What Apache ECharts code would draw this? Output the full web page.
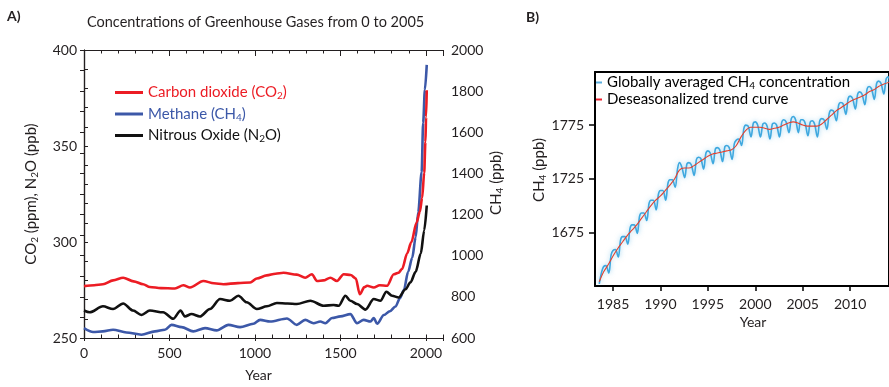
<!DOCTYPE html>
<html>
<head>
<meta charset="utf-8">
<script src="https://cdn.jsdelivr.net/npm/echarts@6.0.0/dist/echarts.min.js"></script>
<style>
  html, body { margin: 0; padding: 0; background: #fff; }
  #chart { width: 889px; height: 387px; }
</style>
</head>
<body>
<div id="chart"></div>
<script>
// ---- Panel A: concentrations over the last two millennia ([year, value]) ----
const co2Ppm = [
  [0,277],[60,277.5],[111,278],[170,280],[229,281.4],[290,279.5],[346,278],[385,276.6],
  [450,276],[532,275.8],[581,277.5],[620,276.3],[698,279.7],[760,278.5],[815,278],[900,278.6],
  [972,278.9],[1011,281],[1069,282.6],[1120,283.5],[1167,284],[1245,283],[1294,281.4],[1333,283.2],
  [1363,279.7],[1400,280],[1441,281.4],[1480,279.7],[1519,283.2],[1560,282.8],[1590,281],[1613,272.8],
  [1640,276.5],[1656,277.2],[1695,276.3],[1730,277.5],[1773,277.2],[1812,283.2],[1840,284],[1861,286],
  [1890,294],[1915,300],[1945,310],[1965,316],[1978,323],[1990,336],[1997,352],[2001,365],[2005,379]
];
const n2oPpb = [
  [0,264.3],[33,263.4],[111,266.5],[170,265.1],[229,268],[287,264.3],[336,262],[385,264.3],
  [463,263.4],[522,260],[565,264.3],[590,261.2],[629,262.5],[678,261.2],[737,265.1],[796,270.3],
  [854,269.4],[903,272],[952,268.6],[1011,265.1],[1070,266.5],[1128,268.2],[1190,268],[1245,267.7],
  [1324,269.4],[1402,266.8],[1460,267.2],[1490,266.8],[1529,272],[1558,269.4],[1597,267.7],[1646,264.8],
  [1695,270.3],[1734,269.4],[1769,274.1],[1802,272],[1841,271.1],[1881,275.4],[1910,279],[1940,284.5],
  [1970,294],[1990,306],[2005,319]
];
const ch4Ppb = [
  [0,648],[53,629],[110,632],[170,640],[248,627],[336,616],[415,632],[473,640],[512,664],[571,653],
  [639,632],[708,648],[776,637],[845,664],[913,653],[991,669],[1030,688],[1089,680],[1187,695],
  [1245,664],[1294,688],[1343,672],[1382,680],[1412,672],[1451,697],[1500,705],[1558,716],[1597,672],
  [1636,688],[1676,680],[1695,697],[1715,669],[1754,712],[1789,730],[1822,753],[1848,793],[1871,833],
  [1896,922],[1920,990],[1940,1090],[1955,1211],[1975,1405],[1984,1646],[1994,1807],[2005,1928]
];

// ---- Panel B: globally averaged CH4, seasonal cycle and trend ([decimal year, ppb]) ----
const ch4Global = [
  [1983.55,1627],[1983.8,1638],
  [1984.0,1643],[1984.25,1644],[1984.55,1637],[1984.8,1654],
  [1985.0,1658],[1985.25,1659],[1985.55,1652],[1985.8,1668],
  [1986.0,1671],[1986.25,1671],[1986.55,1664],[1986.8,1679],
  [1987.0,1682],[1987.25,1682],[1987.55,1674],[1987.8,1690],
  [1988.0,1693],[1988.25,1693],[1988.55,1686],[1988.8,1702],
  [1989.0,1705],[1989.25,1705],[1989.55,1696],[1989.8,1711],
  [1990.0,1714],[1990.25,1714],[1990.55,1705],[1990.8,1721],
  [1991.0,1724],[1991.25,1724],[1991.55,1717],[1991.8,1734],
  [1992.0,1740],[1992.25,1736],[1992.55,1726],[1992.8,1739],
  [1993.0,1740],[1993.25,1738],[1993.55,1728],[1993.8,1743],
  [1994.0,1745],[1994.25,1744],[1994.55,1734],[1994.8,1749],
  [1995.0,1751],[1995.25,1749],[1995.55,1739],[1995.8,1753],
  [1996.0,1754],[1996.25,1752],[1996.55,1741],[1996.8,1755],
  [1997.0,1756],[1997.25,1754],[1997.55,1743],[1997.8,1758],
  [1998.0,1761],[1998.25,1762],[1998.55,1756],[1998.8,1772],
  [1999.0,1775],[1999.25,1774],[1999.55,1764],[1999.8,1777],
  [2000.0,1778],[2000.25,1775],[2000.55,1764],[2000.8,1776],
  [2001.0,1777],[2001.25,1774],[2001.55,1762],[2001.8,1776],
  [2002.0,1777],[2002.25,1775],[2002.55,1764],[2002.8,1778],
  [2003.0,1780],[2003.25,1778],[2003.55,1768],[2003.8,1781],
  [2004.0,1783],[2004.25,1780],[2004.55,1768],[2004.8,1780],
  [2005.0,1780],[2005.25,1777],[2005.55,1765],[2005.8,1778],
  [2006.0,1779],[2006.25,1776],[2006.55,1764],[2006.8,1779],
  [2007.0,1781],[2007.25,1780],[2007.55,1771],[2007.8,1786],
  [2008.0,1789],[2008.25,1788],[2008.55,1779],[2008.8,1794],
  [2009.0,1796],[2009.25,1795],[2009.55,1785],[2009.8,1800],
  [2010.0,1802],[2010.25,1800],[2010.55,1790],[2010.8,1804],
  [2011.0,1806],[2011.25,1804],[2011.55,1794],[2011.8,1809],
  [2012.0,1811],[2012.25,1809],[2012.55,1799],[2012.8,1814],
  [2013.0,1816],[2013.25,1814],[2013.55,1804],[2013.8,1818],
  [2014.0,1820],[2014.2,1812]
];
const ch4Trend = [
  [1983.55,1629],[1984.0,1638],[1984.5,1645],[1985.0,1653],[1985.5,1660],[1986.0,1666],[1986.5,1672],
  [1987.0,1677],[1987.5,1682],[1988.0,1688],[1988.5,1694],[1989.0,1700],[1989.5,1705],[1990.0,1709],
  [1990.5,1714],[1991.0,1719],[1991.5,1725],[1992.0,1733],[1992.5,1735],[1993.0,1735],[1993.5,1737],
  [1994.0,1740],[1994.5,1743],[1995.0,1746],[1995.5,1748],[1996.0,1749],[1996.5,1750],[1997.0,1751],
  [1997.5,1752],[1998.0,1756],[1998.5,1764],[1999.0,1770],[1999.5,1773],[2000.0,1773],[2000.5,1773],
  [2001.0,1772],[2001.5,1771],[2002.0,1772],[2002.5,1773],[2003.0,1775],[2003.5,1777],[2004.0,1778],
  [2004.5,1777],[2005.0,1775],[2005.5,1774],[2006.0,1774],[2006.5,1774],[2007.0,1776],[2007.5,1780],
  [2008.0,1784],[2008.5,1788],[2009.0,1791],[2009.5,1794],[2010.0,1797],[2010.5,1799],[2011.0,1801],
  [2011.5,1803],[2012.0,1806],[2012.5,1808],[2013.0,1811],[2013.5,1813],[2014.1,1815]
];
const yearTicksB = [1985, 1990, 1995, 2000, 2005, 2010];
const ppbTicksB = [1675, 1725, 1775];

const FONT = 'Lato';
const INK = '#231f20';
const RED = '#ec1c24';
const BLUE = '#3c58a8';
const BLACK = '#111111';
const SKY = '#3ea8df';
const TREND = '#e2412f';

const richText = {
  n: { fontSize: 15, fontFamily: FONT, lineHeight: 18 },
  s: { fontSize: 10, fontFamily: FONT, lineHeight: 18, padding: [7, 0, 0, 0] }
};

const legendLabels = {
  'Carbon dioxide': '{n|Carbon dioxide (CO}{s|2}{n|)}',
  'Methane': '{n|Methane (CH}{s|4}{n|)}',
  'Nitrous Oxide': '{n|Nitrous Oxide (N}{s|2}{n|O)}',
  'Globally averaged': '{n|Globally averaged CH}{s|4}{n| concentration}',
  'Deseasonalized': '{n|Deseasonalized trend curve}'
};

const frameLine = { show: true, lineStyle: { color: INK, width: 1.2 } };
const boxLineB = { show: true, onZero: false, lineStyle: { color: '#000', width: 2 } };
const tickLabel = { fontSize: 14, fontFamily: FONT, color: INK };
const plain = (v) => String(Math.round(v));

const chart = echarts.init(document.getElementById('chart'), null, { renderer: 'canvas' });

chart.setOption({
  animation: false,
  textStyle: { fontFamily: FONT },
  title: [
    { text: 'Concentrations of Greenhouse Gases from 0 to 2005', left: 87, top: 15, padding: 0,
      textStyle: { fontSize: 14.5, fontWeight: 'normal', fontFamily: FONT, color: INK } },
    { text: 'A)', left: 7, top: 9, padding: 0,
      textStyle: { fontSize: 14, fontWeight: 'bold', fontFamily: FONT, color: INK } },
    { text: 'B)', left: 526, top: 10, padding: 0,
      textStyle: { fontSize: 14, fontWeight: 'bold', fontFamily: FONT, color: INK } }
  ],
  grid: [
    { left: 84, top: 50, right: 446, bottom: 46 },
    { left: 595, top: 72, right: -5, bottom: 101 },
    { left: 84, top: 50, right: 446, bottom: 46 }
  ],
  legend: [
    {
      orient: 'vertical', left: 115, top: 84, padding: 0,
      itemWidth: 28, itemHeight: 3, itemGap: 4.5, icon: 'rect',
      data: [
        { name: 'Carbon dioxide', textStyle: { color: RED } },
        { name: 'Methane', textStyle: { color: BLUE } },
        { name: 'Nitrous Oxide', textStyle: { color: BLACK } }
      ],
      formatter: (name) => legendLabels[name],
      textStyle: { fontSize: 15, fontFamily: FONT, rich: richText }
    },
    {
      orient: 'vertical', left: 596, top: 74, padding: 0,
      itemWidth: 6, itemHeight: 2, itemGap: 1, icon: 'rect',
      data: [
        { name: 'Globally averaged', textStyle: { color: '#000' } },
        { name: 'Deseasonalized', textStyle: { color: '#000' } }
      ],
      formatter: (name) => legendLabels[name],
      textStyle: { fontSize: 15, fontFamily: FONT, rich: richText }
    }
  ],
  xAxis: [
    { // A bottom: 100-year ticks, labels every 500
      gridIndex: 0, type: 'value', position: 'bottom', min: 0, max: 2100, interval: 100,
      axisLine: frameLine, splitLine: { show: false },
      axisTick: { inside: true, length: 3.5, lineStyle: { color: INK, width: 1 } },
      axisLabel: Object.assign({ margin: 8, formatter: (v) => (v % 500 === 0 && v <= 2000) ? String(v) : '' }, tickLabel),
      name: 'Year', nameLocation: 'middle', nameGap: 30,
      nameTextStyle: { fontSize: 14, fontFamily: FONT, color: INK, padding: [0, 10, 0, 0] }
    },
    { // A top frame
      gridIndex: 0, type: 'value', position: 'top', min: 0, max: 2100, interval: 100,
      axisLine: frameLine, splitLine: { show: false },
      axisTick: { inside: true, length: 3.5, lineStyle: { color: INK, width: 1 } },
      axisLabel: { show: false }
    },
    { // A longer ticks at 500-year steps, bottom
      gridIndex: 2, type: 'value', position: 'bottom', min: 0, max: 2100, interval: 500,
      axisLine: { show: false }, splitLine: { show: false },
      axisTick: { inside: true, length: 6, lineStyle: { color: INK, width: 1 } },
      axisLabel: { show: false }
    },
    { // A longer ticks at 500-year steps, top
      gridIndex: 2, type: 'value', position: 'top', min: 0, max: 2100, interval: 500,
      axisLine: { show: false }, splitLine: { show: false },
      axisTick: { inside: true, length: 6, lineStyle: { color: INK, width: 1 } },
      axisLabel: { show: false }
    },
    { // B bottom
      gridIndex: 1, type: 'value', position: 'bottom', min: 1983.1, max: 2014.1,
      axisLine: boxLineB, splitLine: { show: false },
      axisTick: { show: true, inside: false, length: 5, customValues: yearTicksB, lineStyle: { color: '#000', width: 1.5 } },
      axisLabel: Object.assign({ margin: 11, customValues: yearTicksB, formatter: plain }, tickLabel),
      name: 'Year', nameLocation: 'middle', nameGap: 27,
      nameTextStyle: { fontSize: 14, fontFamily: FONT, color: INK, padding: [0, 0, 0, 22] }
    },
    { // B top frame
      gridIndex: 1, type: 'value', position: 'top', min: 1983.1, max: 2014.1,
      axisLine: boxLineB, splitLine: { show: false },
      axisTick: { show: false }, axisLabel: { show: false }
    }
  ],
  yAxis: [
    { // A left: CO2 and N2O
      gridIndex: 0, type: 'value', position: 'left', min: 250, max: 400, interval: 10,
      axisLine: frameLine, splitLine: { show: false },
      axisTick: { inside: true, length: 4, lineStyle: { color: INK, width: 1 } },
      axisLabel: Object.assign({ margin: 7, formatter: (v) => v % 50 === 0 ? String(v) : '' }, tickLabel),
      name: '{n|CO}{s|2}{n| (ppm), N}{s|2}{n|O (ppb)}', nameLocation: 'middle', nameGap: 44, nameRotate: 90,
      nameTextStyle: { color: INK, rich: richText }
    },
    { // A right: CH4
      gridIndex: 0, type: 'value', position: 'right', min: 600, max: 2000, interval: 100,
      axisLine: frameLine, splitLine: { show: false },
      axisTick: { inside: true, length: 4, lineStyle: { color: INK, width: 1 } },
      axisLabel: Object.assign({ margin: 8, formatter: (v) => v % 200 === 0 ? String(v) : '' }, tickLabel),
      name: '{n|CH}{s|4}{n| (ppb)}', nameLocation: 'middle', nameGap: 43, nameRotate: 90,
      nameTextStyle: { color: INK, rich: richText, padding: [0, 0, 0, 22] }
    },
    { // B left
      gridIndex: 1, type: 'value', position: 'left', min: 1625, max: 1824.5,
      axisLine: boxLineB, splitLine: { show: false },
      axisTick: { show: true, inside: false, length: 6, customValues: ppbTicksB, lineStyle: { color: '#000', width: 1.5 } },
      axisLabel: Object.assign({ margin: 11, customValues: ppbTicksB, formatter: plain }, tickLabel),
      name: '{n|CH}{s|4}{n| (ppb)}', nameLocation: 'middle', nameGap: 40, nameRotate: 90,
      nameTextStyle: { color: INK, rich: richText, padding: [0, 0, 0, 18] }
    },
    { // B right frame
      gridIndex: 1, type: 'value', position: 'right', min: 1625, max: 1824.5,
      axisLine: boxLineB, splitLine: { show: false },
      axisTick: { show: false }, axisLabel: { show: false }
    },
    { // companion axis for the tick overlay grid
      gridIndex: 2, type: 'value', min: 0, max: 1, show: false
    }
  ],
  series: [
    {
      name: 'Methane', type: 'line', xAxisIndex: 0, yAxisIndex: 1, data: ch4Ppb,
      showSymbol: false, smooth: 0.3, smoothMonotone: 'x',
      lineStyle: { color: BLUE, width: 2.6 }, itemStyle: { color: BLUE }
    },
    {
      name: 'Nitrous Oxide', type: 'line', xAxisIndex: 0, yAxisIndex: 0, data: n2oPpb,
      showSymbol: false, smooth: 0.3, smoothMonotone: 'x',
      lineStyle: { color: BLACK, width: 2.6 }, itemStyle: { color: BLACK }
    },
    {
      name: 'Carbon dioxide', type: 'line', xAxisIndex: 0, yAxisIndex: 0, data: co2Ppm,
      showSymbol: false, smooth: 0.3, smoothMonotone: 'x',
      lineStyle: { color: RED, width: 2.6 }, itemStyle: { color: RED }
    },
    {
      name: 'Globally averaged', type: 'line', xAxisIndex: 4, yAxisIndex: 2, data: ch4Global,
      showSymbol: false, smooth: 0.35,
      lineStyle: { color: SKY, width: 1.6, shadowBlur: 5, shadowColor: 'rgba(62,168,223,0.55)' },
      itemStyle: { color: '#5aaede' }
    },
    {
      name: 'Deseasonalized', type: 'line', xAxisIndex: 4, yAxisIndex: 2, data: ch4Trend,
      showSymbol: false, smooth: 0.4,
      lineStyle: { color: TREND, width: 1.1 }, itemStyle: { color: '#ee2230' }
    }
  ]
});
</script>
</body>
</html>
